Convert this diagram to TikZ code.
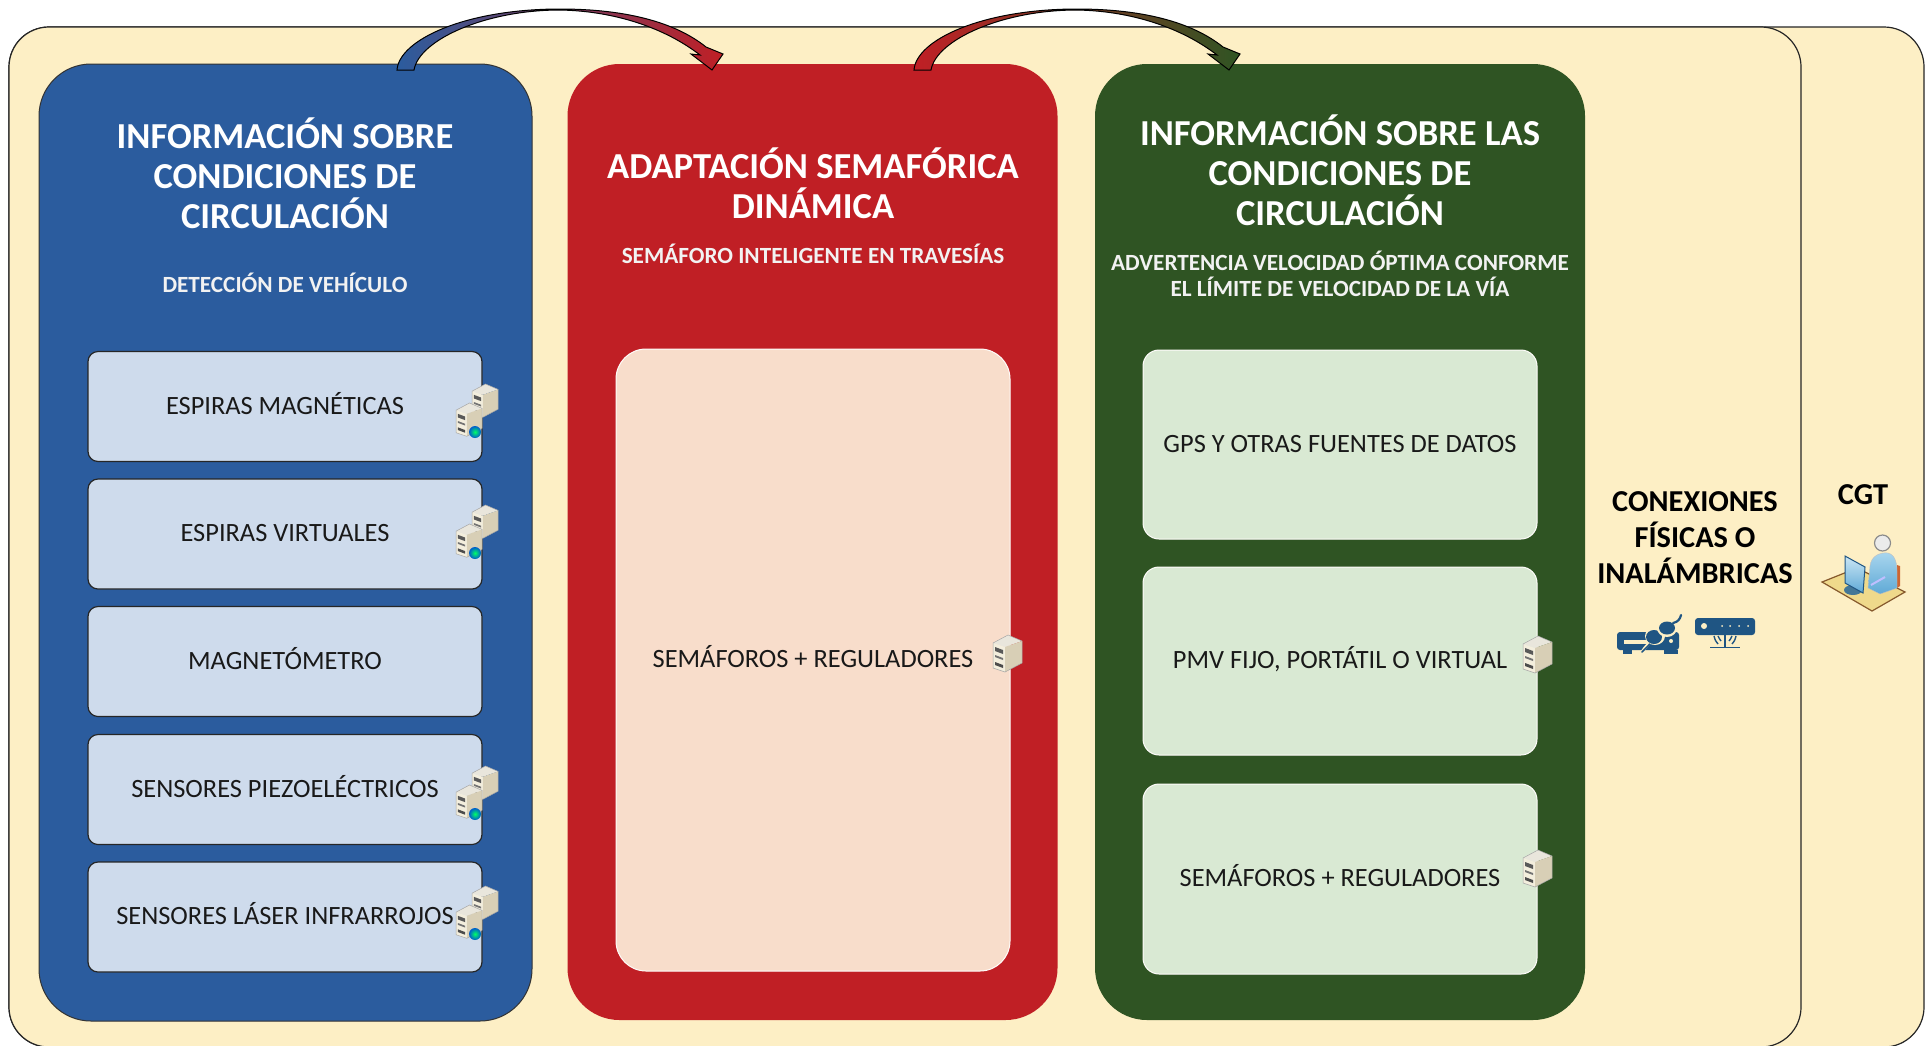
\documentclass[tikz,border=0pt]{standalone}
\usepackage{fontspec}
\setmainfont{Carlito}
\usetikzlibrary{calc}
\definecolor{cream}{HTML}{FDEFC5}
\definecolor{pblue}{HTML}{2B5C9E}
\definecolor{pred}{HTML}{C01F25}
\definecolor{pgreen}{HTML}{2F5423}
\definecolor{iblue}{HTML}{CEDBEC}
\definecolor{ipeach}{HTML}{F8DDCB}
\definecolor{igreen}{HTML}{D9E9D3}
\definecolor{icon}{HTML}{1F5583}
\definecolor{srvA}{HTML}{F3EEDD}
\definecolor{srvB}{HTML}{D8CFB6}
\definecolor{srvC}{HTML}{E9E6DC}
\definecolor{deskc}{HTML}{EFD98B}
\definecolor{skyA}{HTML}{A9D6EE}
\definecolor{skyB}{HTML}{5FA9D6}
\tikzset{
  frame/.style={draw=black!85,line width=.6pt,fill=cream,rounded corners=20pt,inner sep=0pt,minimum height=510pt},
  panel/.style={rounded corners=26pt,inner sep=0pt,minimum width=245pt,minimum height=478pt},
  itemtxt/.style={text=black!90,font=\fontsize{13.2}{15}\selectfont,text height=8.2pt,text depth=.6pt},
  itemA/.style={itemtxt,draw=black!85,line width=.6pt,fill=iblue,rounded corners=5pt,inner sep=0pt,minimum width=197pt,minimum height=55pt},
  itemB/.style={itemtxt,draw=white!90!ipeach,line width=.5pt,rounded corners=8pt,inner sep=0pt,minimum width=197pt},
  ttl/.style={text=white,align=center,font=\bfseries\fontsize{18.3}{20.1}\selectfont,inner sep=0pt},
  subt/.style={text=white!95!black,align=center,font=\bfseries\fontsize{11.6}{12.9}\selectfont,inner sep=0pt},
  dark/.style={text=black,align=center,font=\bfseries\fontsize{15.2}{18}\selectfont,inner sep=0pt},
  srv/.pic={
    \fill[srvC] (0,8) -- (15,0) -- (29,6) -- (12,12) -- cycle;
    \fill[srvA] (0,8) -- (12,12) -- (12,37) -- (0,33) -- cycle;
    \fill[srvB] (12,12) -- (29,6) -- (29,28) -- (12,37) -- cycle;
    \fill[black!65] (2,12) -- (10,15) -- (10,19) -- (2,16) -- cycle;
    \fill[black!55] (2,20) -- (10,23) -- (10,25) -- (2,22) -- cycle;
    \fill[black!70] (2,27) -- (10,30) -- (10,33) -- (2,30) -- cycle;
    \draw[black!35,line width=.25pt] (0,8) -- (15,0) -- (29,6) -- (29,28) -- (12,37) -- (0,33) -- cycle;
  },
  twosrv/.pic={
    \pic[scale=.9] at (16,0) {srv};
    \pic[scale=.9] at (0,19) {srv};
    \shade[inner color=green!60!cyan,outer color=blue!55!cyan!80!black] (19,48) circle (6);
  }
}
\newcommand{\curvedarrow}[3]{%
  \shade[shift={(#1)},left color=#2,right color=#3,draw=black,line width=.5pt]
    (-8,0) .. controls (-6,-30) and (60,-61) .. (155,-61)
    .. controls (220,-61) and (270,-48) .. (301,-23)
    -- (318,-16) -- (307,0) -- (286,-16) -- (295,-15)
    .. controls (260,-42) and (210,-59) .. (155,-60)
    .. controls (80,-60) and (14,-30) .. (9,0) -- cycle;}
\begin{document}
\begin{tikzpicture}[x=.5pt,y=-.5pt]
\useasboundingbox (0,0) rectangle (1925,1045);
\fill[white] (0,0) rectangle (1925,1045);
% frames
\node[frame,minimum width=957.5pt] (outer) at (966.5,537) {};
\node[frame,minimum width=896pt] (inner) at (905,537) {};
% panels
\node[panel,fill=pblue,draw=black!80,line width=.5pt,minimum width=246.5pt,minimum height=478.5pt] (blue) at (285.5,542.5) {};
\node[panel,fill=pred] (red) at (812.5,542) {};
\node[panel,fill=pgreen] (green) at (1340,542) {};
% arrows
\coordinate (arrowA) at (405,70);
\coordinate (arrowB) at (922,70);
\curvedarrow{arrowA}{pblue}{pred}
\curvedarrow{arrowB}{pred}{pgreen}
% titles
\node[ttl] (t1) at (285,173.5) {INFORMACIÓN SOBRE\\CONDICIONES DE\\CIRCULACIÓN};
\node[subt] (s1) at (285,283) {DETECCIÓN DE VEHÍCULO};
\node[ttl] (t2) at (813,183) {ADAPTACIÓN SEMAFÓRICA\\DINÁMICA};
\node[subt] (s2) at (813,254) {SEMÁFORO INTELIGENTE EN TRAVESÍAS};
\node[ttl] (t3) at (1340,170.5) {INFORMACIÓN SOBRE LAS\\CONDICIONES DE\\CIRCULACIÓN};
\node[subt] (s3) at (1340,274) {ADVERTENCIA VELOCIDAD ÓPTIMA CONFORME\\EL LÍMITE DE VELOCIDAD DE LA VÍA};
% blue items
\node[itemA] (b1) at (285,406.5) {ESPIRAS MAGNÉTICAS};
\node[itemA] (b2) at (285,534) {ESPIRAS VIRTUALES};
\node[itemA] (b3) at (285,661.5) {MAGNETÓMETRO};
\node[itemA] (b4) at (285,789.5) {SENSORES PIEZOELÉCTRICOS};
\node[itemA] (b5) at (285,917) {SENSORES LÁSER INFRARROJOS};
% red item
\node[itemB,fill=ipeach,rounded corners=15pt,minimum height=311pt] (r1) at (813,660) {SEMÁFOROS + REGULADORES};
% green items
\node[itemB,fill=igreen,minimum height=94.5pt] (g1) at (1340,444.5) {GPS Y OTRAS FUENTES DE DATOS};
\node[itemB,fill=igreen,minimum height=94pt] (g2) at (1340,661) {PMV FIJO, PORTÁTIL O VIRTUAL};
\node[itemB,fill=igreen,minimum height=95pt] (g3) at (1340,879) {SEMÁFOROS + REGULADORES};
% servers
\foreach \dy in {1,122,383,503} \pic at (456,383+\dy) {twosrv};
\pic at (993,635) {srv};
\pic at (1523,636) {srv};
\pic at (1523,850) {srv};
% right column
\node[dark] (conn) at (1695,538) {CONEXIONES\\FÍSICAS O\\INALÁMBRICAS};
\node[dark] (cgt) at (1863,495) {CGT};
% wired icon
\fill[icon,rounded corners=1.5pt] (1617,632) rectangle (1679,650);
\fill[icon] (1623,650) rectangle (1632,653.5);
\fill[icon] (1664,650) rectangle (1678,653.5);
\fill[cream] (1624,640) rectangle (1648,644);
\fill[cream] (1671,641) circle (2);
\draw[cream,line width=1.6pt,line cap=round] (1642,652) .. controls (1650,640) and (1655,640) .. (1660,632);
\draw[icon,line width=.8pt,line cap=round] (1642,652) .. controls (1650,644) and (1652,642) .. (1655,636);
\fill[cream] (1655,636) ellipse (10 and 9);
\fill[icon] (1654,637) ellipse (8 and 7);
\fill[cream] (1667,628) ellipse (10 and 9);
\fill[icon] (1667,628) ellipse (8 and 6.5);
\draw[icon,line width=1.1pt,line cap=round] (1673,623) .. controls (1678,622) and (1680,619) .. (1681,615);
% wireless icon
\fill[icon,rounded corners=1.5pt] (1695,618) rectangle (1755,635);
\fill[cream] (1704,626) circle (3);
\foreach \xd in {1722,1730,1739,1748} \fill[cream] (\xd,626) circle (1);
\draw[icon,line width=.7pt] (1725,635) -- (1725,647);
\draw[icon,line width=.5pt] (1710,647.5) -- (1740,647.5);
\draw[icon,line width=.7pt] (1714,636) .. controls (1715,640) and (1716,642) .. (1718,644);
\draw[icon,line width=.7pt] (1718,636) .. controls (1719,638) and (1720,640) .. (1721,641);
\draw[icon,line width=.7pt] (1736,636) .. controls (1735,640) and (1734,642) .. (1732,644);
\draw[icon,line width=.7pt] (1732,636) .. controls (1731,638) and (1730,640) .. (1729,641);
% operator icon
\filldraw[fill=deskc,draw=brown!70!black,line width=.6pt] (1822,582) -- (1857,568) -- (1905,592) -- (1872,611) -- cycle;
\fill[brown!80!red] (1897,565) -- (1900,566) -- (1900,586) -- (1897,588) -- cycle;
\shade[top color=skyA,bottom color=skyB,draw=black!25,line width=.2pt]
  (1870,566) .. controls (1871,556) and (1880,552) .. (1888,553)
  .. controls (1896,555) and (1897,565) .. (1897,572)
  -- (1897,588) -- (1880,594) -- (1868,588) -- cycle;
\draw[white!75!blue,line width=1pt] (1871,585) -- (1885,577);
\filldraw[fill=black!8,draw=black!45,line width=.6pt] (1882.5,543) circle (8);
\fill[skyB!70!black] (1853,590) ellipse (9 and 5);
\shade[top color=skyA!60,bottom color=skyB,draw=icon,line width=.5pt]
  (1845,556) -- (1865,567) -- (1863,593) -- (1845,583) -- cycle;
\end{tikzpicture}
\end{document}
